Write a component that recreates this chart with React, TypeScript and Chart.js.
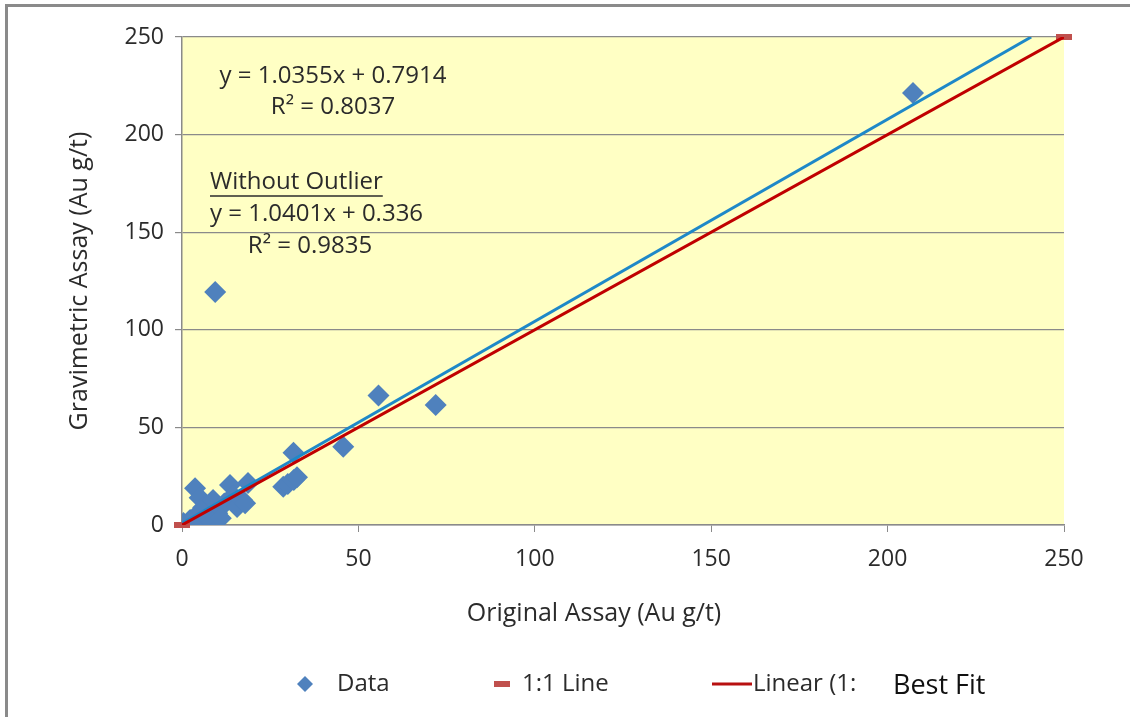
import React, { useEffect, useRef } from "react";
import { Chart, registerables } from "chart.js";

Chart.register(...registerables);

// ---- Data ----
const dataX = [0.4, 1.5, 2.3, 3.5, 3.7, 4.5, 5, 6, 6.5, 8, 8.8, 9.4, 10, 10.8, 12, 13.6, 14.5, 15.6, 17, 17.9, 18.7, 28.7, 30, 31.6, 31.7, 32.6, 45.7, 55.7, 71.9, 207.2, 7, 5.5, 11];
const dataY = [1.0, 0.5, 2.6, 4, 18.8, 1.5, 14, 9, 5, 2.6, 12.8, 119.4, 6, 8.7, 11, 20.5, 15, 9.2, 12.8, 11.1, 21.5, 19.6, 21, 37, 23, 24.5, 40.1, 66.3, 61.5, 221.3, 4, 7, 3.5];
const oneToOneX = [0, 250];
const oneToOneY = [0, 250];
const bestFitX = [0, 240.7];
const bestFitY = [0.79, 250];
const xTicks = [0, 50, 100, 150, 200, 250];
const yTicks = [0, 50, 100, 150, 200, 250];

const legendLabels = ["Data", "1:1 Line", "Linear (1:", "Best Fit"];
const annotationLines = ["y = 1.0355x + 0.7914", "R² = 0.8037", "Without Outlier", "y = 1.0401x + 0.336", "R² = 0.9835"];
const xTitle = "Original Assay (Au g/t)";
const yTitle = "Gravimetric Assay (Au g/t)";

const FONT = "'Open Sans', 'Noto Sans', sans-serif";
const TEXT = "#2b2b2b";

function pts(xs: number[], ys: number[]) {
  return xs.map((x, i) => ({ x, y: ys[i] }));
}

const decorPlugin = {
  id: "decor",
  beforeDraw(chart: any) {
    const { ctx, chartArea, width, height } = chart;
    ctx.save();
    ctx.fillStyle = "#ffffff";
    ctx.fillRect(0, 0, width, height);
    ctx.fillStyle = "rgb(255,255,196)";
    ctx.fillRect(chartArea.left, chartArea.top, chartArea.right - chartArea.left, chartArea.bottom - chartArea.top);
    ctx.strokeStyle = "#8a8a8a";
    ctx.lineWidth = 3;
    ctx.beginPath();
    ctx.moveTo(6.5, height);
    ctx.lineTo(6.5, 5.5);
    ctx.lineTo(width, 5.5);
    ctx.stroke();
    ctx.restore();
  },
  afterDraw(chart: any) {
    const { ctx } = chart;
    ctx.save();
    ctx.fillStyle = TEXT;
    ctx.textBaseline = "middle";

    // x axis title
    ctx.font = `25px ${FONT}`;
    ctx.textAlign = "center";
    ctx.fillText(xTitle, 594, 614);

    ctx.font = `24px ${FONT}`;
    // annotations
    ctx.textAlign = "center";
    ctx.fillText(annotationLines[0], 333, 76);
    ctx.fillText(annotationLines[1], 333, 107);
    ctx.textAlign = "left";
    ctx.fillText(annotationLines[2], 210, 182);
    const w = ctx.measureText(annotationLines[2]).width;
    ctx.strokeStyle = TEXT;
    ctx.lineWidth = 1.5;
    ctx.beginPath();
    ctx.moveTo(210, 196);
    ctx.lineTo(210 + w, 196);
    ctx.stroke();
    ctx.fillText(annotationLines[3], 210, 214);
    ctx.textAlign = "center";
    ctx.fillText(annotationLines[4], 310, 246);

    // legend
    const ly = 684;
    ctx.textAlign = "left";
    ctx.fillStyle = "#4F81BD";
    ctx.beginPath();
    ctx.moveTo(305, ly - 8);
    ctx.lineTo(313, ly);
    ctx.lineTo(305, ly + 8);
    ctx.lineTo(297, ly);
    ctx.closePath();
    ctx.fill();
    ctx.fillStyle = TEXT;
    ctx.fillText(legendLabels[0], 337, ly);
    ctx.fillStyle = "#C0504D";
    ctx.fillRect(494, ly - 3, 16, 6);
    ctx.fillStyle = TEXT;
    ctx.fillText(legendLabels[1], 522, ly);
    ctx.strokeStyle = "#B81010";
    ctx.lineWidth = 3;
    ctx.beginPath();
    ctx.moveTo(712, ly);
    ctx.lineTo(752, ly);
    ctx.stroke();
    ctx.fillText(legendLabels[2], 753, ly);
    ctx.fillStyle = "#111111";
    ctx.font = `27px ${FONT}`;
    ctx.fillText(legendLabels[3], 893, ly + 2);
    ctx.restore();
  },
};

export default function App() {
  const ref = useRef<HTMLCanvasElement>(null);
  useEffect(() => {
    document.body.style.margin = "0";
    const canvas = ref.current!;
    const chart = new Chart(canvas, {
      type: "scatter",
      data: {
        datasets: [
          {
            label: "Linear (1:1 Line)",
            data: pts(oneToOneX, oneToOneY),
            showLine: true,
            borderColor: "#C00000",
            borderWidth: 3,
            pointRadius: 0,
          },
          {
            label: "Best Fit",
            data: pts(bestFitX, bestFitY),
            showLine: true,
            borderColor: "#1E88C8",
            borderWidth: 3,
            pointRadius: 0,
          },
          {
            label: "1:1 Line",
            data: pts(oneToOneX, oneToOneY),
            showLine: false,
            pointStyle: "line",
            pointRadius: 8,
            borderWidth: 6,
            borderColor: "#C0504D",
            backgroundColor: "#C0504D",
            clip: false,
          } as any,
          {
            label: "Data",
            data: pts(dataX, dataY),
            pointStyle: "rectRot",
            pointRadius: 11,
            backgroundColor: "#4F81BD",
            borderColor: "#4F81BD",
            borderWidth: 0,
          },
        ],
      },
      options: {
        responsive: false,
        animation: false,
        events: [],
        layout: { padding: { top: 37, right: 66, left: 0, bottom: 0 } },
        plugins: { legend: { display: false }, tooltip: { enabled: false } },
        scales: {
          x: {
            type: "linear",
            min: 0,
            max: 250,
            afterBuildTicks: (s: any) => { s.ticks = xTicks.map((v) => ({ value: v })); },
            afterFit: (s: any) => { s.height = 717 - 525; },
            grid: { drawOnChartArea: false, drawTicks: true, tickLength: 7, color: "#8a8a8a" },
            border: { color: "#8a8a8a", width: 1.5 },
            ticks: { font: { size: 23, family: FONT }, color: TEXT, padding: 14, maxRotation: 0 },
            title: { display: false, text: xTitle },
          },
          y: {
            type: "linear",
            min: 0,
            max: 250,
            afterBuildTicks: (s: any) => { s.ticks = yTicks.map((v) => ({ value: v })); },
            afterFit: (s: any) => { s.width = 182; },
            grid: { drawOnChartArea: true, drawTicks: true, tickLength: 7, color: "#8a8a8a", lineWidth: 1.2 },
            border: { color: "#8a8a8a", width: 1.5 },
            ticks: { font: { size: 23, family: FONT }, color: TEXT, padding: 11 },
            title: { display: true, text: yTitle, font: { size: 25, family: FONT }, color: TEXT, padding: { top: 65, bottom: 0 } },
          },
        },
      },
      plugins: [decorPlugin],
    });
    return () => chart.destroy();
  }, []);
  return (
    <div style={{ width: 1130, height: 717, position: "relative" }}>
      <canvas ref={ref} width={1130} height={717} style={{ display: "block" }} />
    </div>
  );
}
